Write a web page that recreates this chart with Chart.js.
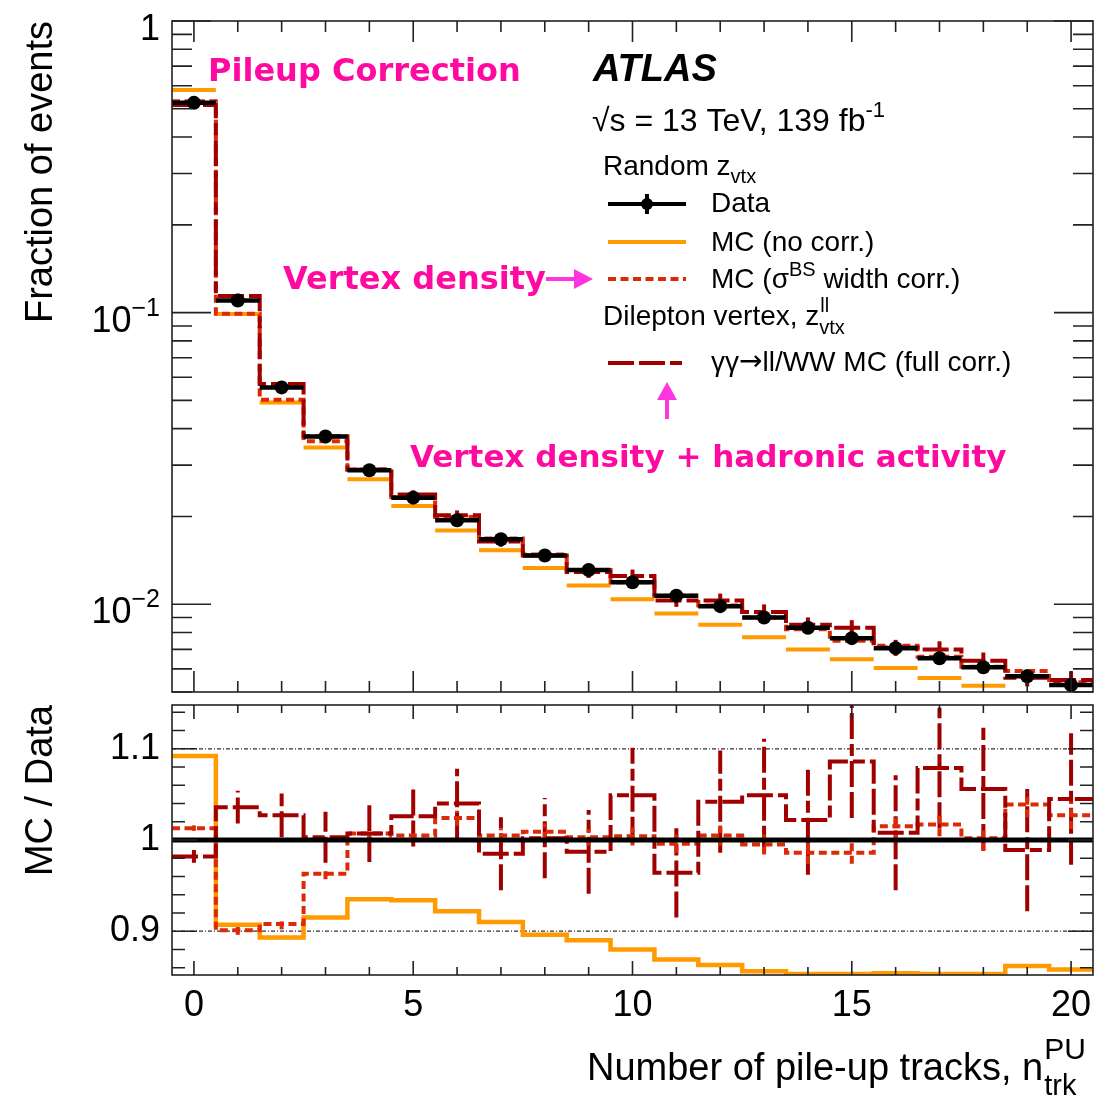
<!DOCTYPE html>
<html>
<head>
<meta charset="utf-8">
<title>Pile-up tracks</title>
<script src="https://cdn.jsdelivr.net/npm/chart.js@4.4.1/dist/chart.umd.min.js"></script>
<style>
  body { margin: 0; background: #fff; }
  #wrap { position: relative; width: 1105px; height: 1100px; }
  canvas { position: absolute; left: 0; }
  #top { top: 0; }
  #ratio { top: 692px; }
</style>
</head>
<body>
<div id="wrap">
  <canvas id="top" width="1105" height="700"></canvas>
  <canvas id="ratio" width="1105" height="408"></canvas>
</div>
<script>
// number of pile-up tracks, one bin per integer
const bins = [0, 1, 2, 3, 4, 5, 6, 7, 8, 9, 10, 11, 12, 13, 14, 15, 16, 17, 18, 19, 20];

// fraction of events
const dataFrac    = [0.524, 0.110, 0.0554, 0.0376, 0.0288, 0.0232, 0.0194, 0.0167, 0.0147, 0.0131, 0.0119, 0.0107, 0.00985, 0.0090, 0.0083, 0.00765, 0.00707, 0.00653, 0.00608, 0.00566, 0.00528];
const mcNoCorr    = [0.580, 0.0990, 0.0492, 0.0345, 0.0268, 0.0217, 0.0179, 0.0153, 0.0133, 0.0116, 0.0104, 0.0093, 0.0085, 0.0077, 0.0070, 0.00648, 0.00604, 0.00558, 0.00525, 0.0049, 0.0045];
const mcWidthCorr = [0.531, 0.0991, 0.0503, 0.0362, 0.0290, 0.0233, 0.0199, 0.0168, 0.0148, 0.0131, 0.0119, 0.0107, 0.0099, 0.0090, 0.0082, 0.0075, 0.0072, 0.0066, 0.0061, 0.0059, 0.0054];
const mcFullCorr  = [0.515, 0.114, 0.0569, 0.0377, 0.0290, 0.0238, 0.0202, 0.0164, 0.0147, 0.0129, 0.0125, 0.0103, 0.0103, 0.0094, 0.0085, 0.0083, 0.0071, 0.0070, 0.0064, 0.0056, 0.0055];

// MC / Data
const ratioNoCorr    = [1.092, 0.907, 0.893, 0.915, 0.935, 0.934, 0.922, 0.910, 0.896, 0.890, 0.880, 0.869, 0.863, 0.856, 0.853, 0.853, 0.854, 0.853, 0.853, 0.862, 0.858];
const ratioWidthCorr = [1.013, 0.901, 0.908, 0.963, 1.007, 1.005, 1.024, 1.005, 1.009, 1.003, 1.004, 0.996, 1.005, 0.995, 0.986, 0.986, 1.015, 1.017, 1.002, 1.039, 1.027];
const ratioWidthErr  = [0.003, 0.005, 0.006, 0.006, 0.007, 0.007, 0.008, 0.008, 0.009, 0.009, 0.010, 0.010, 0.011, 0.011, 0.012, 0.012, 0.013, 0.013, 0.014, 0.014, 0.015];
const ratioFullCorr  = [0.982, 1.036, 1.027, 1.003, 1.007, 1.026, 1.040, 0.985, 1.002, 0.987, 1.049, 0.964, 1.042, 1.049, 1.022, 1.086, 1.008, 1.079, 1.056, 0.989, 1.045];
const ratioFullErr   = [0.007, 0.018, 0.024, 0.028, 0.031, 0.033, 0.038, 0.040, 0.044, 0.046, 0.052, 0.049, 0.056, 0.062, 0.060, 0.062, 0.063, 0.066, 0.067, 0.067, 0.072];

// axis labels
const logLabels   = [[1, '1', ''], [0.1, '10', '\u22121'], [0.01, '10', '\u22122']];
const ratioLabels = [0.9, 1, 1.1];
const ratioGuides = [0.9, 1.1];
const xLabels     = [0, 5, 10, 15, 20];

const SANS = "'Liberation Sans', Arial, sans-serif";
const BOLD = "'DejaVu Sans', sans-serif";
const ORANGE = '#ff9a00', RED = '#dc2a08', DARK = '#a00000', PINK = '#ff0aa0', ARROW = '#ff36e0';
const DASH_FULL = [26, 5, 26, 5, 12, 5], DASH_WIDTH = [8, 4.5];

// histogram helpers: points on bin edges for stepped lines, separate bars, bin centres
const stepPts = vals => bins.map((b, i) => ({ x: b - 0.5, y: vals[i] }))
  .concat([{ x: bins[bins.length - 1] + 0.5, y: vals[vals.length - 1] }]);
const barPts = vals => bins.flatMap((b, i) => [{ x: b - 0.5, y: vals[i] }, { x: b + 0.5, y: vals[i] }, { x: b + 0.5, y: null }]);
const centerPts = vals => bins.map((b, i) => ({ x: b, y: vals[i] }));

// text runs with super/subscripts: [text, scale, dy, style, family]
function rich(ctx, x, y, size, parts, family) {
  for (const [t, sc, dy, style, fam] of parts) {
    ctx.font = `${style || ''} ${Math.round(size * sc)}px ${fam || family || SANS}`;
    ctx.fillText(t, x, y + dy);
    x += ctx.measureText(t).width;
  }
  return x;
}

function arrow(ctx, x1, y1, x2, y2, head, half) {
  const ang = Math.atan2(y2 - y1, x2 - x1);
  const bx = x2 - head * Math.cos(ang), by = y2 - head * Math.sin(ang);
  ctx.beginPath();
  ctx.moveTo(x1, y1); ctx.lineTo(bx, by);
  ctx.stroke();
  ctx.beginPath();
  ctx.moveTo(x2, y2);
  ctx.lineTo(bx + half * Math.sin(ang), by - half * Math.cos(ang));
  ctx.lineTo(bx - half * Math.sin(ang), by + half * Math.cos(ang));
  ctx.closePath();
  ctx.fill();
}

// frame with inward ticks on all four sides
function frameAxes(cfg) {
  return {
    id: 'frameAxes',
    afterDatasetsDraw(chart) {
      const { ctx, chartArea: a, scales: { x, y } } = chart;
      ctx.save();
      ctx.strokeStyle = '#222';
      ctx.lineWidth = 1.6;
      ctx.beginPath();
      bins.forEach(v => {
        const px = x.getPixelForValue(v);
        const len = v % 5 === 0 ? cfg.xMajor : cfg.xMinor;
        ctx.moveTo(px, a.bottom); ctx.lineTo(px, a.bottom - len);
        ctx.moveTo(px, a.top); ctx.lineTo(px, a.top + len);
      });
      cfg.yTicks.forEach(([v, major]) => {
        const py = y.getPixelForValue(v);
        const len = major ? cfg.yMajor : cfg.yMinor;
        ctx.moveTo(a.left, py); ctx.lineTo(a.left + len, py);
        ctx.moveTo(a.right, py); ctx.lineTo(a.right - len, py);
      });
      ctx.stroke();
      ctx.strokeRect(a.left, a.top, a.width, a.height);
      ctx.restore();
    }
  };
}

// vertical error bars at bin centres, same style as the histogram
const errorBars = {
  id: 'errorBars',
  beforeDatasetsDraw(chart) {
    const { ctx, chartArea: a, scales: { x, y } } = chart;
    ctx.save();
    ctx.beginPath(); ctx.rect(a.left, a.top, a.width, a.height); ctx.clip();
    chart.data.datasets.forEach(ds => {
      if (!ds.errs) return;
      ctx.strokeStyle = ds.borderColor;
      ctx.lineWidth = ds.borderWidth;
      ctx.setLineDash(ds.borderDash || []);
      ds.centers.forEach((v, i) => {
        const px = x.getPixelForValue(bins[i]);
        ctx.beginPath();
        ctx.moveTo(px, y.getPixelForValue(v - ds.errs[i]));
        ctx.lineTo(px, y.getPixelForValue(v + ds.errs[i]));
        ctx.stroke();
      });
    });
    ctx.restore();
  }
};

const logTicks = [];
for (let e = -3; e <= 0; e++) {
  for (let m = 1; m <= 9; m++) {
    const v = m * Math.pow(10, e);
    if (v >= 0.005 && v <= 1.0001) logTicks.push([v, m === 1]);
  }
}
const ratioTicks = [];
for (let k = 43; k <= 57; k++) ratioTicks.push([k * 0.02, k % 5 === 0]);

// labels, legend and annotations of the upper panel
const topText = {
  id: 'topText',
  afterDraw(chart) {
    const { ctx, chartArea: a, scales: { y } } = chart;
    ctx.save();
    ctx.fillStyle = '#000';
    ctx.textBaseline = 'alphabetic';

    // log axis labels with raised exponent
    logLabels.forEach(([v, base, exp]) => {
      const py = y.getPixelForValue(v);
      ctx.font = `36px ${SANS}`;
      const wb = ctx.measureText(base).width;
      ctx.font = `25px ${SANS}`;
      const we = ctx.measureText(exp).width;
      const x0 = a.left - 12 - wb - we;
      rich(ctx, x0, py + 19, 36, [[base, 1, 0], [exp, 25 / 36, -16]]);
    });

    rich(ctx, 593, 81, 38, [['ATLAS', 1, 0, 'italic bold']]);
    rich(ctx, 592, 131, 32, [['\u221As = 13 TeV, 139 fb', 1, 0], ['-1', 0.68, -14]]);

    // legend
    rich(ctx, 603, 175, 28, [['Random z', 1, 0], ['vtx', 0.7, 8]]);
    ctx.lineWidth = 4;
    ctx.strokeStyle = '#000';
    ctx.beginPath(); ctx.moveTo(608, 204); ctx.lineTo(686, 204);
    ctx.moveTo(647, 194); ctx.lineTo(647, 214); ctx.stroke();
    ctx.beginPath(); ctx.arc(647, 204, 6, 0, Math.PI * 2); ctx.fill();
    rich(ctx, 711, 212, 28, [['Data', 1, 0]]);

    ctx.strokeStyle = ORANGE;
    ctx.beginPath(); ctx.moveTo(608, 242); ctx.lineTo(686, 242); ctx.stroke();
    rich(ctx, 711, 251, 28, [['MC (no corr.)', 1, 0]]);

    ctx.strokeStyle = RED;
    ctx.setLineDash(DASH_WIDTH);
    ctx.beginPath(); ctx.moveTo(608, 279); ctx.lineTo(686, 279); ctx.stroke();
    ctx.setLineDash([]);
    rich(ctx, 711, 288, 28, [['MC (\u03C3', 1, 0], ['BS', 0.7, -12], [' width corr.)', 1, 0]]);

    const zx = rich(ctx, 603, 325, 28, [['Dilepton vertex, z', 1, 0]]);
    rich(ctx, zx + 1, 325, 28, [['ll', 0.7, -13]]);
    rich(ctx, zx, 325, 28, [['vtx', 0.7, 9]]);

    ctx.strokeStyle = DARK;
    ctx.setLineDash(DASH_FULL);
    ctx.beginPath(); ctx.moveTo(608, 363); ctx.lineTo(686, 363); ctx.stroke();
    ctx.setLineDash([]);
    rich(ctx, 711, 371, 28, [['\u03B3\u03B3', 1, 0], ['\u2192', 1, -1, '', "'DejaVu Sans', sans-serif"],
      ['ll/WW MC (full corr.)', 1, 0]]);

    // annotations
    ctx.fillStyle = PINK;
    rich(ctx, 208, 81, 32, [['Pileup Correction', 1, 0, 'bold']], BOLD);
    rich(ctx, 283, 289, 32, [['Vertex density', 1, 0, 'bold']], BOLD);
    rich(ctx, 410, 467, 31, [['Vertex density + hadronic activity', 1, 0, 'bold']], BOLD);
    ctx.fillStyle = ARROW;
    ctx.strokeStyle = ARROW;
    ctx.lineWidth = 4;
    arrow(ctx, 546, 279, 593, 279, 19, 10);
    arrow(ctx, 667, 419, 667, 382, 18, 10);
    ctx.restore();
  }
};

// guides and x title of the ratio panel
const ratioExtras = {
  id: 'ratioExtras',
  beforeDatasetsDraw(chart) {
    const { ctx, chartArea: a, scales: { y } } = chart;
    ctx.save();
    ctx.strokeStyle = '#333';
    ctx.lineWidth = 1.2;
    ctx.setLineDash([4, 2, 1, 2]);
    ratioGuides.forEach(v => {
      const py = y.getPixelForValue(v);
      ctx.beginPath(); ctx.moveTo(a.left, py); ctx.lineTo(a.right, py); ctx.stroke();
    });
    ctx.restore();
  },
  afterDraw(chart) {
    const { ctx } = chart;
    ctx.save();
    ctx.fillStyle = '#000';
    const nx = rich(ctx, 587, 388, 38, [['Number of pile-up tracks, n', 1, 0]]);
    rich(ctx, nx + 1, 388, 38, [['PU', 0.8, -21]]);
    rich(ctx, nx + 1, 388, 38, [['trk', 0.76, 15]]);
    ctx.restore();
  }
};

const common = {
  responsive: false,
  animation: false,
  events: [],
  plugins: { legend: { display: false }, tooltip: { enabled: false } }
};

new Chart(document.getElementById('top'), {
  type: 'line',
  data: {
    datasets: [
      { data: centerPts(dataFrac), showLine: false, pointRadius: 7, pointBackgroundColor: '#000', pointBorderWidth: 0, order: 0 },
      { data: barPts(dataFrac), borderColor: '#000', borderWidth: 4.5, pointRadius: 0, spanGaps: false, order: 1, clip: 0 },
      { data: stepPts(mcFullCorr), stepped: 'before', borderColor: DARK, borderWidth: 4, borderDash: DASH_FULL,
        pointRadius: 0, order: 2, clip: 0, centers: mcFullCorr, errs: mcFullCorr.map((v, i) => v * ratioFullErr[i]) },
      { data: stepPts(mcWidthCorr), stepped: 'before', borderColor: RED, borderWidth: 4, borderDash: DASH_WIDTH,
        pointRadius: 0, order: 3, clip: 0 },
      { data: barPts(mcNoCorr), borderColor: ORANGE, borderWidth: 4, pointRadius: 0, spanGaps: false, order: 4, clip: 0 }
    ]
  },
  options: {
    ...common,
    layout: { padding: { left: 0, top: 21, right: 12, bottom: 8 } },
    scales: {
      x: { type: 'linear', min: -0.5, max: 20.5, display: false },
      y: {
        type: 'logarithmic', min: 0.005, max: 1,
        afterFit: s => { s.width = 172; },
        grid: { display: false }, border: { display: false },
        ticks: { display: false },
        title: { display: true, text: 'Fraction of events', align: 'end', color: '#000',
                 font: { family: SANS, size: 38 }, padding: { top: 19 } }
      }
    }
  },
  plugins: [errorBars, frameAxes({ xMajor: 21, xMinor: 11, yMajor: 39, yMinor: 20, yTicks: logTicks }), topText]
});

new Chart(document.getElementById('ratio'), {
  type: 'line',
  data: {
    datasets: [
      { data: [{ x: -0.5, y: 1 }, { x: 20.5, y: 1 }], borderColor: '#000', borderWidth: 5, pointRadius: 0, order: 0, clip: 0 },
      { data: stepPts(ratioFullCorr), stepped: 'before', borderColor: DARK, borderWidth: 4, borderDash: DASH_FULL,
        pointRadius: 0, order: 1, clip: 0, centers: ratioFullCorr, errs: ratioFullErr },
      { data: stepPts(ratioWidthCorr), stepped: 'before', borderColor: RED, borderWidth: 4, borderDash: DASH_WIDTH,
        pointRadius: 0, order: 2, clip: 0, centers: ratioWidthCorr, errs: ratioWidthErr },
      { data: stepPts(ratioNoCorr), stepped: 'before', borderColor: ORANGE, borderWidth: 4.5, pointRadius: 0, order: 3, clip: 0 }
    ]
  },
  options: {
    ...common,
    layout: { padding: { left: 0, top: 13, right: 12, bottom: 0 } },
    scales: {
      x: {
        type: 'linear', min: -0.5, max: 20.5,
        afterBuildTicks: s => { s.ticks = xLabels.map(v => ({ value: v })); },
        afterFit: s => { s.height = 125; s.paddingLeft = 0; s.paddingRight = 0; },
        grid: { display: false, drawTicks: false }, border: { display: false },
        ticks: { autoSkip: false, maxRotation: 0, padding: 9, color: '#000', font: { family: SANS, size: 36 } }
      },
      y: {
        type: 'linear', min: 0.852, max: 1.148,
        afterBuildTicks: s => { s.ticks = ratioLabels.map(v => ({ value: v })); },
        afterFit: s => { s.width = 172; s.paddingTop = 0; s.paddingBottom = 0; },
        grid: { display: false, drawTicks: false }, border: { display: false },
        ticks: { padding: 12, color: '#000', font: { family: SANS, size: 36 }, callback: v => String(v) },
        title: { display: true, text: 'MC / Data', align: 'end', color: '#000',
                 font: { family: SANS, size: 38 }, padding: { top: 19 } }
      }
    }
  },
  plugins: [ratioExtras, errorBars, frameAxes({ xMajor: 14, xMinor: 8, yMajor: 25, yMinor: 13, yTicks: ratioTicks })]
});
</script>
</body>
</html>
